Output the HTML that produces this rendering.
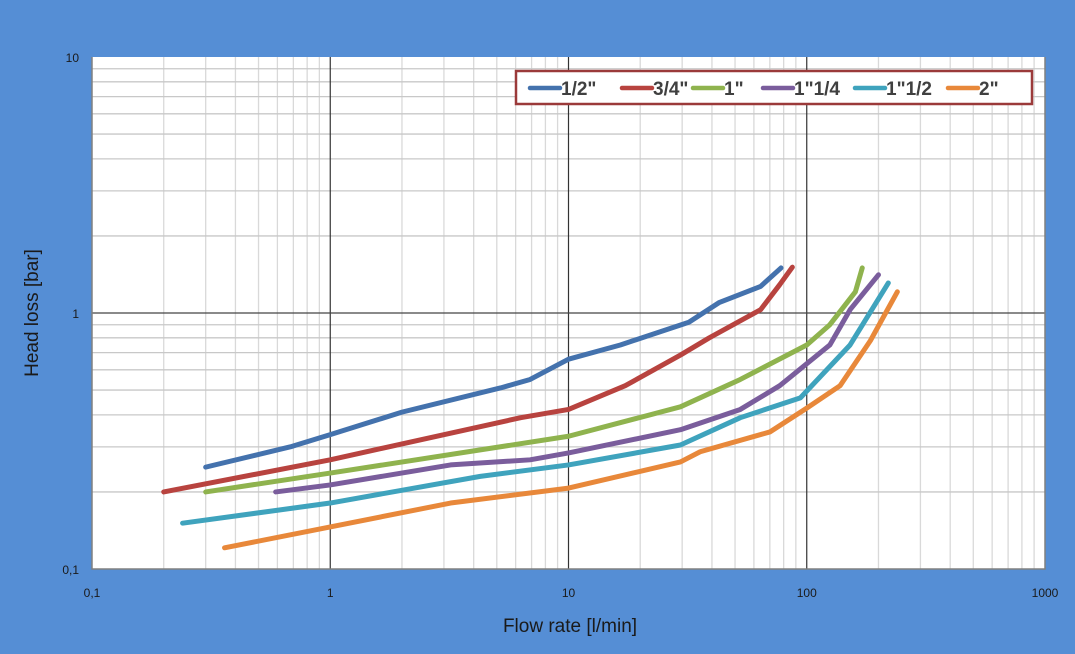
<!DOCTYPE html>
<html><head><meta charset="utf-8"><style>
html,body{margin:0;padding:0;background:#558ed5;}
svg{display:block;font-family:"Liberation Sans",sans-serif;}
</style></head><body>
<svg id="chart" width="1075" height="654" viewBox="0 0 1075 654">
<rect x="0" y="0" width="1075" height="654" fill="#558ed5"/>
<rect x="92" y="57" width="953" height="512" fill="#ffffff"/>
<g id="grid"></g>
<g id="series"></g>
<g id="ticks"></g>
<text x="570" y="632" text-anchor="middle" font-size="19" fill="#1a1a1a">Flow rate [l/min]</text>
<text transform="translate(38,313) rotate(-90)" text-anchor="middle" font-size="19" fill="#1a1a1a">Head loss [bar]</text>
<g id="legend">
<rect x="516" y="71" width="516" height="33" fill="#fff" stroke="#9b3a3a" stroke-width="2.5"/>
</g>
</svg>
<script>
const xTicks=[0.1,1,10,100,1000];
const xTickLabels=["0,1","1","10","100","1000"];
const yTicks=[0.1,1,10];
const yTickLabels=["0,1","1","10"];
const seriesNames=['1/2"','3/4"','1"','1"1/4','1"1/2','2"'];
const seriesColors=["#4472ad","#b8433f","#8fb34e","#7a5d9c","#3fa3bd","#e8883a"];
const s12=[[0.3,0.25],[0.68,0.30],[1,0.335],[2,0.41],[5.2,0.51],[6.9,0.55],[10,0.66],[16.5,0.75],[32,0.92],[43,1.1],[64,1.27],[78,1.5]];
const s34=[[0.2,0.2],[1,0.267],[6.3,0.39],[10,0.42],[17.3,0.52],[29.5,0.685],[39,0.8],[64,1.03],[77,1.29],[87,1.51]];
const s1=[[0.3,0.2],[1,0.237],[10,0.33],[29.5,0.43],[52.6,0.55],[100,0.75],[125,0.9],[160,1.21],[171,1.5]];
const s114=[[0.59,0.2],[1,0.213],[3.2,0.255],[6.9,0.267],[10,0.284],[29.5,0.35],[52.6,0.42],[77,0.52],[125,0.75],[152,1.03],[200,1.41]];
const s112=[[0.24,0.151],[1,0.181],[4.26,0.23],[10,0.255],[29.5,0.305],[52.6,0.39],[94,0.466],[152,0.75],[220,1.31]];
const s2=[[0.36,0.121],[1,0.146],[3.2,0.181],[10,0.207],[29.5,0.262],[35.7,0.287],[70,0.343],[100,0.425],[138,0.52],[185,0.78],[240,1.21]];
const allSeries=[s12,s34,s1,s114,s112,s2];

const NS="http://www.w3.org/2000/svg";
const X0=92,X1=1045,Y0=569,Y1=57;
function xs(v){return X0+(Math.log10(v)+1)/4*(X1-X0);}
function ys(v){return Y0-(Math.log10(v)+1)/2*(Y0-Y1);}
function mk(tag,attrs,parent){const e=document.createElementNS(NS,tag);for(const k in attrs)e.setAttribute(k,attrs[k]);parent.appendChild(e);return e;}

const grid=document.getElementById('grid');
for(let d=-1;d<3;d++){for(let m=2;m<=9;m++){const v=m*Math.pow(10,d);const x=xs(v);
 const l=mk('line',{x1:x,x2:x,y1:Y1,y2:Y0,stroke:'#d9d9d9','stroke-width':1.3},grid);
 
 }}
for(let d=-1;d<1;d++){for(let m=2;m<=9;m++){const v=m*Math.pow(10,d);const y=ys(v);
 const l=mk('line',{x1:X0,x2:X1,y1:y,y2:y,stroke:'#c8c8c8','stroke-width':1.3},grid);
 
 }}
[1,10,100].forEach(v=>{const x=xs(v);const l=mk('line',{x1:x,x2:x,y1:Y1,y2:Y0,stroke:'#333','stroke-width':1.2},grid);
 
 });
{const y=ys(1);const l=mk('line',{x1:X0,x2:X1,y1:y,y2:y,stroke:'#444','stroke-width':1.2},grid);
 
 }
const ax=mk('polyline',{points:`${X0},${Y1} ${X0},${Y0} ${X1},${Y0} ${X1},${Y1}`,fill:'none',stroke:'#808080','stroke-width':1.5},grid);



const sg=document.getElementById('series');
allSeries.forEach((s,i)=>{
 const p=mk('polyline',{points:s.map(pt=>xs(pt[0])+','+ys(pt[1])).join(' '),fill:'none',stroke:seriesColors[i],'stroke-width':5,'stroke-linecap':'round','stroke-linejoin':'round'},sg);
 
 
});

const tg=document.getElementById('ticks');
xTicks.forEach((v,i)=>{const t=mk('text',{x:xs(v),y:597,'text-anchor':'middle','font-size':12,fill:'#1a1a1a'},tg);t.textContent=xTickLabels[i];
 
 });
yTicks.forEach((v,i)=>{const t=mk('text',{x:79,y:ys(v)+5,'text-anchor':'end','font-size':12,fill:'#1a1a1a'},tg);t.textContent=yTickLabels[i];
 
 });

const lg=document.getElementById('legend');
const lx=[530,622,693,763,855,948];
seriesNames.forEach((n,i)=>{
 const l=mk('line',{x1:lx[i],x2:lx[i]+30,y1:88,y2:88,stroke:seriesColors[i],'stroke-width':4.5,'stroke-linecap':'round'},lg);
 
 
 const t=mk('text',{x:lx[i]+31,y:95,'font-size':19,'font-weight':'bold',fill:'#404040'},lg);t.textContent=n;
 
 
});
</script>
</body></html>
